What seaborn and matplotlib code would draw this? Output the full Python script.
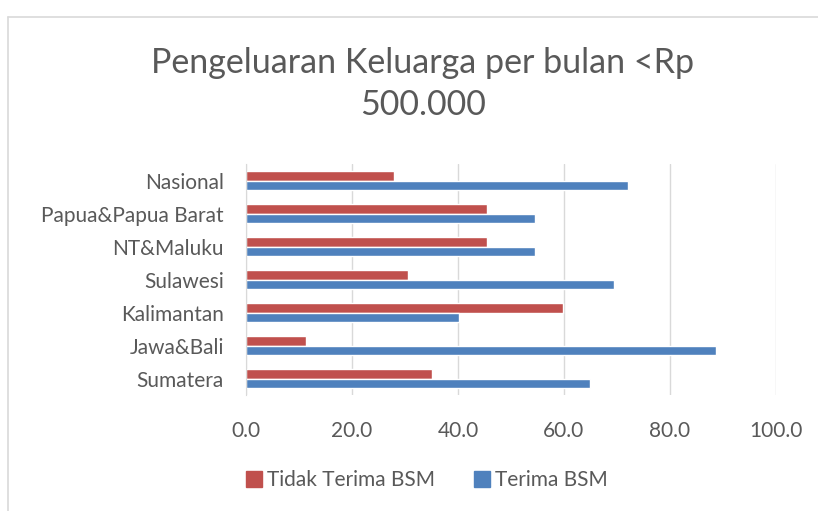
import numpy as np
import pandas as pd
import matplotlib
matplotlib.use('Agg')
import matplotlib.pyplot as plt
import seaborn as sns

# data
regions = ['Nasional', 'Papua&Papua Barat', 'NT&Maluku', 'Sulawesi',
           'Kalimantan', 'Jawa&Bali', 'Sumatera']
tidak_terima = [28.0, 45.5, 45.5, 30.5, 59.8, 11.3, 35.1]
terima = [72.0, 54.5, 54.5, 69.5, 40.2, 88.7, 64.9]
series = ['Tidak Terima BSM', 'Terima BSM']
colors = ['#C0504D', '#4F81BD']
xticks = [0, 20, 40, 60, 80, 100]

df = pd.DataFrame({
    'region': regions * 2,
    'value': tidak_terima + terima,
    'seri': [series[0]] * len(regions) + [series[1]] * len(regions),
})

sns.set_style('white')
plt.rcParams['font.family'] = ['Lato', 'DejaVu Sans']
txt = '#595959'

fig = plt.figure(figsize=(8.18, 5.11), dpi=100)
ax = fig.add_axes([246 / 818, 1 - 395 / 511, 530 / 818, 231 / 511])

sns.barplot(data=df, y='region', x='value', hue='seri', order=regions,
            hue_order=series, palette=colors, orient='h', width=0.6,
            saturation=1, ax=ax, legend=True)

ax.set_xlim(0, 100)
ax.set_xticks(xticks)
ax.set_xticklabels([f'{v:.1f}' for v in xticks], fontsize=15, color=txt)
ax.tick_params(axis='x', length=0, pad=19)
ax.tick_params(axis='y', length=0, pad=16, labelsize=15, labelcolor=txt)
ax.set_xlabel('')
ax.set_ylabel('')
ax.grid(axis='x', color='#d9d9d9', lw=1)
ax.set_axisbelow(True)
for s in ['top', 'right', 'bottom']:
    ax.spines[s].set_visible(False)
ax.spines['left'].set_color('#d9d9d9')

ax.legend_.remove()
handles = [plt.Rectangle((0, 0), 1, 1, color=c) for c in colors]
fig.legend(handles, series, loc='center', bbox_to_anchor=(0.522, 0.06),
           ncol=2, frameon=False, fontsize=15, labelcolor=txt,
           handlelength=0.75, handleheight=0.75, handletextpad=0.25,
           columnspacing=1.9)

fig.text(0.517, 0.836, 'Pengeluaran Keluarga per bulan <Rp\n500.000',
         ha='center', va='center', fontsize=24.5, color=txt, linespacing=1.38)

# chart frame (cropped at right/bottom)
fig.add_artist(plt.Line2D([8 / 818, 1], [1 - 17 / 511] * 2, color='#d9d9d9', lw=1.2))
fig.add_artist(plt.Line2D([8 / 818] * 2, [0, 1 - 17 / 511], color='#d9d9d9', lw=1.2))

fig.savefig('out.png', dpi=100)
